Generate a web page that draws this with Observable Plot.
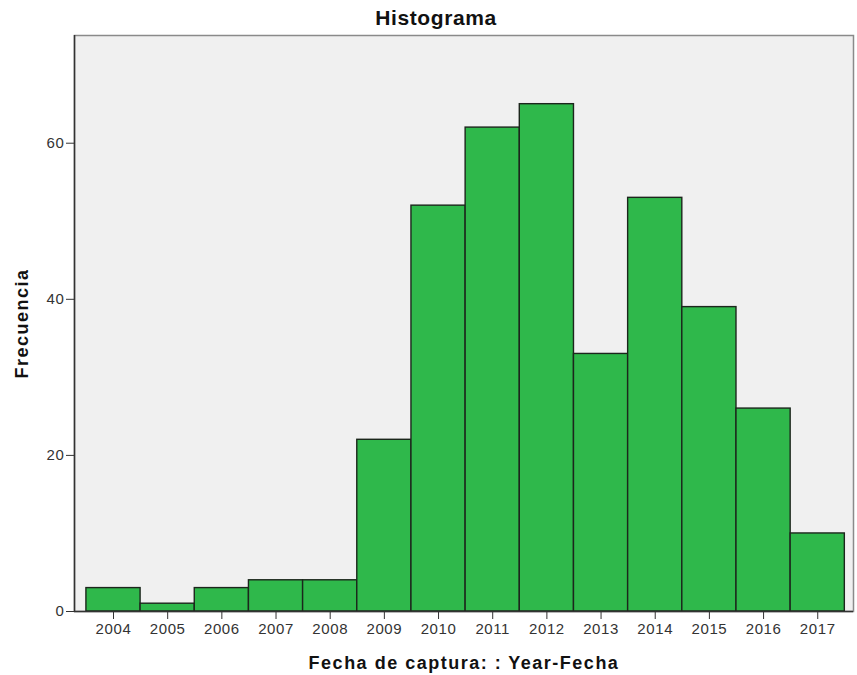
<!DOCTYPE html>
<html>
<head>
<meta charset="utf-8">
<script src="https://cdn.jsdelivr.net/npm/d3@7"></script>
<script src="https://cdn.jsdelivr.net/npm/@observablehq/plot@0.6"></script>
<style>
  body { margin: 0; background: white; }
  g[aria-label="x-axis tick label"] text, g[aria-label="y-axis tick label"] text { font-size: 15px; letter-spacing: 0.6px; }
  text[aria-label="axis-title"] { letter-spacing: 1.5px; }
  text[aria-label="chart-title"] { letter-spacing: 0.6px; }
</style>
</head>
<body>
<div id="chart"></div>
<script>
const years = [2004, 2005, 2006, 2007, 2008, 2009, 2010, 2011, 2012, 2013, 2014, 2015, 2016, 2017];
const counts = [3, 1, 3, 4, 4, 22, 52, 62, 65, 33, 53, 39, 26, 10];
const yTicks = [0, 20, 40, 60];
const title = "Histograma";
const xLabel = "Fecha de captura: : Year-Fecha";
const yLabel = "Frecuencia";

const data = years.map((y, i) => ({year: y, count: counts[i]}));
const xDomain = [2003.28, 2017.66];

const chart = Plot.plot({
  width: 857,
  height: 675,
  marginLeft: 74,
  marginRight: 4,
  marginTop: 35,
  marginBottom: 64,
  style: {fontFamily: "'Liberation Sans', Arial, sans-serif", fontSize: "15px", color: "#222", background: "white"},
  x: {domain: xDomain, label: null},
  y: {domain: [0, 73.8], label: null},
  marks: [
    Plot.frame({fill: "#f0f0f0", stroke: "#8a8a8a", strokeWidth: 1.5}),
    Plot.rectY(data, {x1: d => d.year - 0.5, x2: d => d.year + 0.5, y: "count", fill: "#2fb84b", stroke: "#1c261c", strokeWidth: 1.4}),
    Plot.ruleX([xDomain[0]], {stroke: "#333", strokeWidth: 1.5}),
    Plot.ruleY([0], {stroke: "#333", strokeWidth: 1.5}),
    Plot.axisX({ticks: years, tickFormat: d => String(d), tickSize: 8, tickPadding: 4, fontSize: 15, label: null, stroke: "#333", fill: "#333"}),
    Plot.axisY({ticks: yTicks, tickSize: 8, tickPadding: 2, fontSize: 15, label: null, stroke: "#333", fill: "#333"}),
    Plot.text([title], {ariaLabel: () => "chart-title", frameAnchor: "top", lineAnchor: "middle", dx: -28, dy: -17, fontSize: 21, fontWeight: "bold", fill: "#111"}),
    Plot.text([xLabel], {ariaLabel: () => "axis-title", frameAnchor: "bottom", lineAnchor: "middle", dy: 52, fontSize: 18, fontWeight: "bold", fill: "#111"}),
    Plot.text([yLabel], {ariaLabel: () => "axis-title", frameAnchor: "left", textAnchor: "middle", lineAnchor: "middle", dx: -52, rotate: -90, fontSize: 18, fontWeight: "bold", fill: "#111"})
  ]
});
document.getElementById("chart").appendChild(chart);
</script>
</body>
</html>
